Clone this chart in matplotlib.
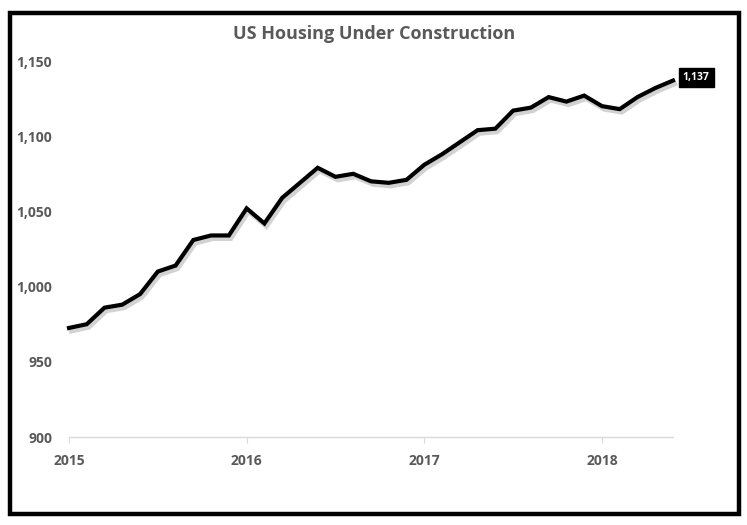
import matplotlib
matplotlib.use("Agg")
import matplotlib.pyplot as plt
import matplotlib.patheffects as pe
from matplotlib.patches import Rectangle

# Data
values = [972.5, 975, 986, 988, 995, 1010, 1014, 1031, 1034, 1034,
          1052, 1042, 1059, 1069, 1079, 1073, 1075, 1070, 1069, 1071,
          1081, 1088, 1096, 1104, 1105, 1117, 1119, 1126, 1123, 1127,
          1120, 1118, 1126, 1132, 1137]
tick_positions = [0, 10, 20, 30]
tick_labels = ["2015", "2016", "2017", "2018"]
y_ticks = [900, 950, 1000, 1050, 1100, 1150]
y_labels = ["900", "950", "1,000", "1,050", "1,100", "1,150"]
last_label = "1,137"
title = "US Housing Under Construction"

W, H = 747, 525
fig = plt.figure(figsize=(W / 100, H / 100), dpi=100)
fig.patch.set_facecolor("white")

# outer border
fig.patches.append(Rectangle((10 / W, 1 - 514 / H), 729 / W, 501 / H,
                             transform=fig.transFigure, fill=False,
                             edgecolor="black", linewidth=3.2))

ax = fig.add_axes([69 / W, 1 - 437 / H, (673 - 69) / W, (437 - 61) / H])
x = list(range(len(values)))
ax.plot(x, values, color="black", linewidth=3.0, solid_joinstyle="miter",
        path_effects=[pe.SimpleLineShadow(offset=(1.5, -2.5), shadow_color="gray", alpha=0.35),
                      pe.Normal()], clip_on=False)
ax.set_xlim(0, len(values) - 1)
ax.set_ylim(900, 1150)

for s in ["top", "right", "left"]:
    ax.spines[s].set_visible(False)
ax.spines["bottom"].set_color("#d9d9d9")
ax.spines["bottom"].set_linewidth(1.0)

gray = "#595959"
font = "Open Sans"
ax.set_yticks(y_ticks)
ax.set_yticklabels(y_labels, fontsize=10, fontweight="bold", color=gray, family=font)
ax.tick_params(axis="y", length=0, pad=12)
ax.set_xticks(tick_positions)
ax.set_xticklabels(tick_labels, fontsize=10, fontweight="bold", color=gray, family=font)
ax.tick_params(axis="x", length=4, color="#d9d9d9", pad=8)

ax.annotate(last_label, xy=(x[-1], values[-1]), xytext=(7, 2), textcoords="offset points",
            ha="left", va="center", fontsize=7.5, fontweight="bold", color="white", family=font,
            bbox=dict(boxstyle="square,pad=0.4", facecolor="black", edgecolor="black"),
            annotation_clip=False)

fig.text(374 / W, 1 - 34 / H, title, ha="center", va="center", fontsize=13,
         color=gray, family=font, fontweight="bold")

fig.savefig("out.png", dpi=100, facecolor="white")
